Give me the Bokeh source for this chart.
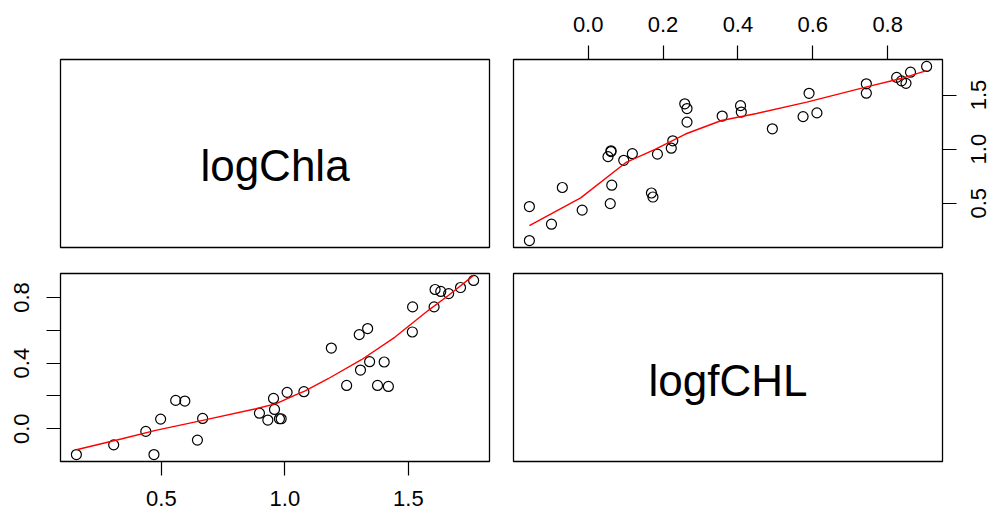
from bokeh.plotting import figure
from bokeh.models import Range1d, LinearAxis, FixedTicker, NumeralTickFormatter
from bokeh.layouts import row, column
from bokeh.core.properties import value
from bokeh.embed import file_html
from bokeh.resources import INLINE

# ---------------- data ----------------
var_names = ["logChla", "logfCHL"]

logChla = [0.156, 0.307, 0.437, 0.470, 0.497, 0.558, 0.595, 0.646, 0.667, 0.897,
           0.931, 0.954, 0.958, 0.978, 0.985, 1.009, 1.077, 1.188, 1.250, 1.301,
           1.335, 1.306, 1.343, 1.375, 1.402, 1.419, 1.517, 1.516, 1.604, 1.608,
           1.631, 1.663, 1.711, 1.764]
logfCHL = [-0.157, -0.098, -0.016, -0.157, 0.059, 0.173, 0.169, -0.069, 0.063, 0.095,
           0.053, 0.185, 0.118, 0.061, 0.061, 0.222, 0.226, 0.492, 0.264, 0.574,
           0.611, 0.358, 0.409, 0.264, 0.407, 0.258, 0.743, 0.590, 0.743, 0.849,
           0.837, 0.824, 0.861, 0.904]

# smoother of logfCHL on logChla (lower-left panel)
smooth1_x = [0.156, 0.341, 0.477, 0.667, 0.883, 0.965, 1.046, 1.080, 1.175, 1.310,
             1.446, 1.581, 1.663, 1.764]
smooth1_y = [-0.128, -0.061, -0.010, 0.051, 0.122, 0.153, 0.208, 0.230, 0.305, 0.421,
             0.559, 0.722, 0.814, 0.935]
# smoother of logChla on logfCHL (upper-right panel)
smooth2_x = [-0.157, -0.020, 0.100, 0.180, 0.260, 0.356, 0.450, 0.584, 0.744, 0.833, 0.904]
smooth2_y = [0.294, 0.550, 0.875, 1.000, 1.140, 1.265, 1.330, 1.435, 1.575, 1.650, 1.725]

chla_ticks = [0.5, 1.0, 1.5]
fchl_left_ticks = [0.0, 0.4, 0.8]
fchl_left_minor = [0.2, 0.6]
fchl_top_ticks = [0.0, 0.2, 0.4, 0.6, 0.8]

FONT = "Liberation Sans"


def padded(v):
    lo, hi = min(v), max(v)
    r = hi - lo
    return Range1d(lo - 0.04 * r, hi + 0.04 * r)


def make_fig(w, h, xr, yr, bl, br, bt, bb, outline=True):
    p = figure(width=w, height=h, x_range=xr, y_range=yr, output_backend="svg",
               toolbar_location=None, x_axis_location=None, y_axis_location=None,
               title=None, min_border_left=bl, min_border_right=br,
               min_border_top=bt, min_border_bottom=bb)
    p.xgrid.grid_line_color = None
    p.ygrid.grid_line_color = None
    p.background_fill_color = "white"
    p.border_fill_color = "white"
    if outline:
        p.outline_line_color = "black"
        p.outline_line_width = 1.3
        p.outline_line_alpha = 1.0
    else:
        p.outline_line_color = None
    return p


def style_axis(ax, standoff, tick_len=14):
    ax.axis_line_color = None
    ax.major_tick_out = tick_len
    ax.major_tick_in = 0
    ax.major_tick_line_color = "black" if tick_len else None
    ax.major_tick_line_width = 1.2
    ax.minor_tick_out = tick_len
    ax.minor_tick_in = 0
    ax.minor_tick_line_color = "black" if tick_len else None
    ax.minor_tick_line_width = 1.2
    ax.major_label_text_font = FONT
    ax.major_label_text_font_size = "22px"
    ax.major_label_text_color = "black"
    ax.major_label_standoff = standoff
    ax.formatter = NumeralTickFormatter(format="0.0")


# layout geometry (canvas px): frames at x 60-489 / 513-942, y 59-247 / 273-461
HT, HB = 260, 255

# top-left: diagonal label
p11 = make_fig(501, HT, Range1d(0, 1), Range1d(0, 1), 60, 12, 59, 13)
p11.text(x=[0.5], y=[0.436], text=[var_names[0]], text_font=value(FONT),
         text_font_size="44px", text_align="center", text_baseline="alphabetic",
         text_color="black")

# top-right: x = logfCHL, y = logChla
xr12 = padded(logfCHL)
yr12 = padded(logChla)
p12 = make_fig(457, HT, xr12, yr12, 12, 16, 59, 13)
p12.scatter(logfCHL, logChla, marker="circle", size=10, fill_color=None,
            line_color="black", line_width=1.2)
p12.line(smooth2_x, smooth2_y, line_color="red", line_width=1.4)
ax_t = LinearAxis(ticker=FixedTicker(ticks=fchl_top_ticks))
style_axis(ax_t, 14)
p12.add_layout(ax_t, "above")
# right axis of the upper-right panel: ticks here ...
ax_r = LinearAxis(ticker=FixedTicker(ticks=chla_ticks),
                  major_label_overrides={t: "" for t in chla_ticks})
style_axis(ax_r, 0)
ax_r.major_label_text_font_size = "1px"
p12.add_layout(ax_r, "right")

# ... and its labels (reading bottom-to-top, as in R) in a thin strip at the right edge
p13 = make_fig(33, HT, Range1d(0, 1), yr12, 32, 0, 59, 13, outline=False)
ax_r_lab = LinearAxis(ticker=FixedTicker(ticks=chla_ticks), major_label_orientation="vertical")
style_axis(ax_r_lab, 4, tick_len=0)
p13.add_layout(ax_r_lab, "left")

# bottom-left: x = logChla, y = logfCHL
xr21 = padded(logChla)
yr21 = padded(logfCHL)
p21 = make_fig(501, HB, xr21, yr21, 60, 12, 13, 54)
p21.scatter(logChla, logfCHL, marker="circle", size=10, fill_color=None,
            line_color="black", line_width=1.2)
p21.line(smooth1_x, smooth1_y, line_color="red", line_width=1.4)
ax_b = LinearAxis(ticker=FixedTicker(ticks=chla_ticks))
style_axis(ax_b, 15)
p21.add_layout(ax_b, "below")
ax_l = LinearAxis(ticker=FixedTicker(ticks=fchl_left_ticks, minor_ticks=fchl_left_minor),
                  major_label_orientation="vertical")
style_axis(ax_l, 17)
p21.add_layout(ax_l, "left")

# bottom-right: diagonal label
p22 = make_fig(490, HB, Range1d(0, 1), Range1d(0, 1), 12, 49, 13, 54)
p22.text(x=[0.5], y=[0.43], text=[var_names[1]], text_font=value(FONT),
         text_font_size="44px", text_align="center", text_baseline="alphabetic",
         text_color="black")

layout = column(row(p11, p12, p13), row(p21, p22))

open("out.html", "w").write(file_html(layout, INLINE))
